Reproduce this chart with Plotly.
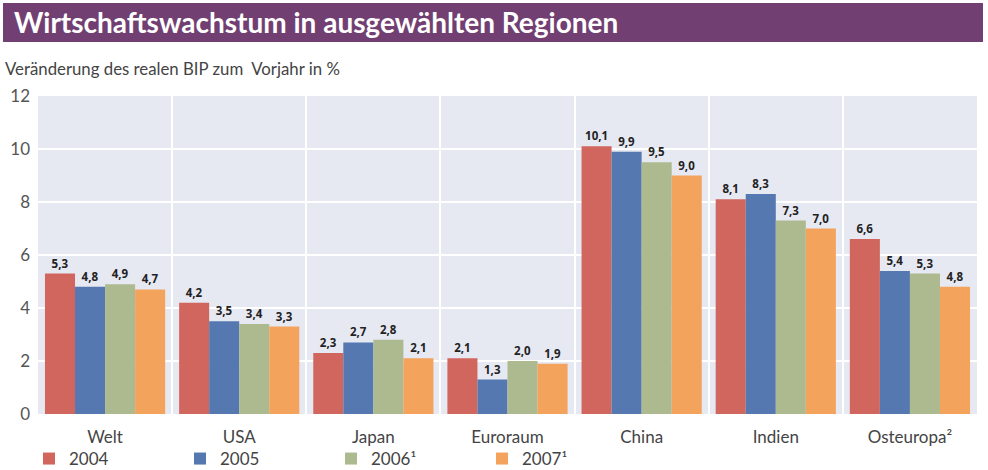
import plotly.graph_objects as go

regions = ["Welt", "USA", "Japan", "Euroraum", "China", "Indien", "Osteuropa²"]
years = ["2004", "2005", "2006¹", "2007¹"]
v2004 = [5.3, 4.2, 2.3, 2.1, 10.1, 8.1, 6.6]
v2005 = [4.8, 3.5, 2.7, 1.3, 9.9, 8.3, 5.4]
v2006 = [4.9, 3.4, 2.8, 2.0, 9.5, 7.3, 5.3]
v2007 = [4.7, 3.3, 2.1, 1.9, 9.0, 7.0, 4.8]
series = [v2004, v2005, v2006, v2007]
colors = ["#D0665E", "#5578B0", "#ADBA8F", "#F3A35C"]

FONT = "Lato"
W, H = 988, 470
L, R, T, B = 38, 11, 96, 56
PW, PH = W - L - R, H - T - B

fig = go.Figure()
for name, vals, col in zip(years, series, colors):
    fig.add_trace(go.Bar(
        x=regions, y=vals, name=name,
        marker=dict(color=col, line=dict(width=0)),
        text=[f"{v:.1f}".replace(".", ",") for v in vals],
        textposition="outside",
        textfont=dict(family="Open Sans", size=11.5, color="#222222", weight="bold"),
        cliponaxis=False,
    ))

fig.update_layout(
    template="none",
    width=W, height=H,
    margin=dict(l=L, r=R, t=T, b=B, pad=0, autoexpand=False),
    paper_bgcolor="white",
    plot_bgcolor="#E6E8F2",
    barmode="group",
    bargap=0.104,
    bargroupgap=0,
    font=dict(family=FONT, color="#444444"),
    showlegend=True,
    legend=dict(
        orientation="h", xref="container", yref="container",
        x=29 / W, xanchor="left", y=1 - 459 / H, yanchor="middle",
        font=dict(family=FONT, size=17, color="#444444"),
        entrywidth=106, entrywidthmode="pixels",
        itemwidth=30, tracegroupgap=0,
        bgcolor="rgba(0,0,0,0)",
    ),
    xaxis=dict(
        type="category", automargin=False,
        tickson="boundaries",
        showgrid=True, gridcolor="white", gridwidth=2,
        ticks="", showline=False, zeroline=False,
        tickfont=dict(family=FONT, size=17, color="#444444"),
        ticklabelstandoff=11,
    ),
    yaxis=dict(
        range=[0, 12], dtick=2, automargin=False,
        showgrid=True, gridcolor="white", gridwidth=2,
        zeroline=False, showline=False, ticks="",
        tickfont=dict(family=FONT, size=17, color="#555555"),
        ticklabelstandoff=7,
    ),
    shapes=[dict(
        type="rect", xref="paper", yref="paper",
        x0=(3 - L) / PW, x1=(983 - L) / PW,
        y0=1 + (T - 42) / PH, y1=1 + (T - 3) / PH,
        fillcolor="#713F72", line=dict(width=0), layer="below",
    )],
    annotations=[
        dict(text="<b>Wirtschaftswachstum in ausgewählten Regionen</b>",
             xref="paper", yref="paper",
             x=(12 - L) / PW, y=1 + (T - 22) / PH,
             xanchor="left", yanchor="middle", showarrow=False,
             font=dict(family=FONT, size=28, color="white")),
        dict(text="Veränderung des realen BIP zum  Vorjahr in %",
             xref="paper", yref="paper",
             x=(3 - L) / PW, y=1 + (T - 68) / PH,
             xanchor="left", yanchor="middle", showarrow=False,
             font=dict(family=FONT, size=16.8, color="#444444")),
    ],
)

fig.write_html(
    "out.html",
    config={"displayModeBar": False},
    post_script="document.body.style.margin='0';document.body.style.overflow='hidden';",
)
